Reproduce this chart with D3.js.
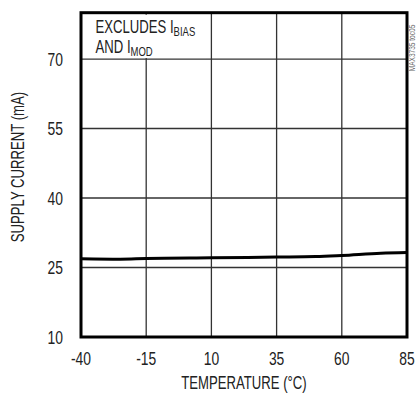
<!DOCTYPE html>
<html>
<head>
<meta charset="utf-8">
<script src="https://cdn.jsdelivr.net/npm/d3@7"></script>
<style>
  body { margin: 0; background: #fff; }
  text { font-family: "Liberation Sans", Arial, sans-serif; fill: #222; }
</style>
</head>
<body>
<script>
const width = 416,
  height = 396;

const margin = { top: 12.7, right: 9, bottom: 59, left: 81 };
const innerWidth = width - margin.left - margin.right;
const innerHeight = height - margin.top - margin.bottom;

// squeeze the font to look like a narrow face
const narrow = 0.73;
const at = (x, y, rot) =>
  `translate(${x},${y})` + (rot ? ` rotate(${rot})` : "") + ` scale(${narrow},1)`;

// data
const temps = [-40, -25, -15, 10, 35, 50, 60, 75, 85];
const current = [26.9, 26.8, 26.95, 27.1, 27.25, 27.35, 27.6, 28.1, 28.25];

const xTicks = [-40, -15, 10, 35, 60, 85];
const yTicks = [10, 25, 40, 55, 70];

const xScale = d3.scaleLinear().domain([-40, 85]).range([0, innerWidth]);
const yScale = d3.scaleLinear().domain([10, 80]).range([innerHeight, 0]);

const svg = d3
  .select("body")
  .append("svg")
  .attr("width", width)
  .attr("height", height);

const mainG = svg
  .append("g")
  .attr("transform", `translate(${margin.left}, ${margin.top})`);

// grid
mainG
  .append("g")
  .selectAll("line")
  .data(xTicks.slice(1, -1))
  .enter()
  .append("line")
  .attr("x1", d => xScale(d))
  .attr("x2", d => xScale(d))
  .attr("y1", 0)
  .attr("y2", innerHeight)
  .attr("stroke", "#333")
  .attr("stroke-width", 1.3);

mainG
  .append("g")
  .selectAll("line")
  .data(yTicks.slice(1))
  .enter()
  .append("line")
  .attr("x1", 0)
  .attr("x2", innerWidth)
  .attr("y1", d => yScale(d))
  .attr("y2", d => yScale(d))
  .attr("stroke", "#333")
  .attr("stroke-width", 1.3);

// white box behind the note
mainG
  .append("rect")
  .attr("x", 1.5)
  .attr("y", 2)
  .attr("width", xScale(10) - 7)
  .attr("height", yScale(70) - 3)
  .attr("fill", "#fff");

const note = mainG.append("g").attr("font-size", 18);
const t1 = note.append("text").attr("transform", at(14.5, 20.5));
t1.append("tspan").text("EXCLUDES I");
t1.append("tspan").attr("font-size", 13).attr("dy", 3).text("BIAS");
const t2 = note.append("text").attr("transform", at(14.5, 40.5));
t2.append("tspan").text("AND I");
t2.append("tspan").attr("font-size", 13).attr("dy", 3).text("MOD");

// curve
const line = d3
  .line()
  .x((d, i) => xScale(temps[i]))
  .y(d => yScale(d))
  .curve(d3.curveMonotoneX);

mainG
  .append("path")
  .datum(current)
  .attr("d", line)
  .attr("fill", "none")
  .attr("stroke", "#000")
  .attr("stroke-width", 3);

// frame
mainG
  .append("rect")
  .attr("width", innerWidth)
  .attr("height", innerHeight)
  .attr("fill", "none")
  .attr("stroke", "#000")
  .attr("stroke-width", 3);

// tick labels
mainG
  .append("g")
  .selectAll("text")
  .data(yTicks)
  .enter()
  .append("text")
  .attr("transform", d => at(-18, yScale(d)))
  .attr("dy", "0.35em")
  .attr("text-anchor", "end")
  .attr("font-size", 19)
  .text(d => d);

mainG
  .append("g")
  .selectAll("text")
  .data(xTicks)
  .enter()
  .append("text")
  .attr("transform", d => at(xScale(d), innerHeight + 21))
  .attr("dy", "0.35em")
  .attr("text-anchor", "middle")
  .attr("font-size", 19)
  .text(d => d);

mainG
  .append("text")
  .attr("transform", at(innerWidth / 2, innerHeight + 46))
  .attr("dy", "0.35em")
  .attr("text-anchor", "middle")
  .attr("font-size", 18)
  .text("TEMPERATURE (°C)");

mainG
  .append("text")
  .attr("transform", at(18 - margin.left, 167 - margin.top, -90))
  .attr("dy", "0.35em")
  .attr("text-anchor", "middle")
  .attr("font-size", 18)
  .text("SUPPLY CURRENT (mA)");

svg
  .append("text")
  .attr("transform", at(412, 48, -90))
  .attr("dy", "0.35em")
  .attr("text-anchor", "middle")
  .attr("font-size", 9)
  .style("fill", "#666")
  .text("MAX3735 toc05");
</script>
</body>
</html>
